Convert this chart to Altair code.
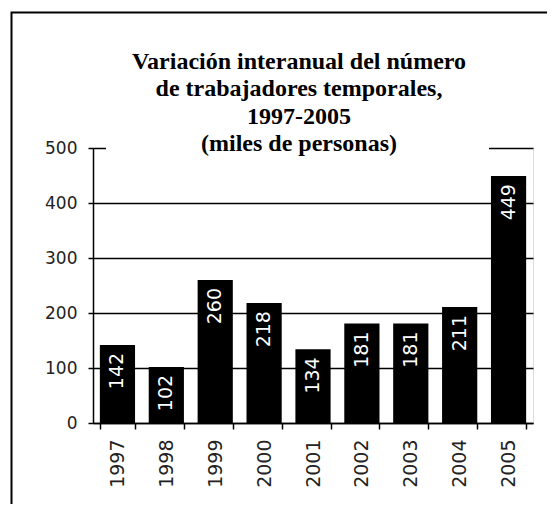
import altair as alt
import pandas as pd

years = ["1997", "1998", "1999", "2000", "2001", "2002", "2003", "2004", "2005"]
values = [142, 102, 260, 218, 134, 181, 181, 211, 449]
y_ticks = [0, 100, 200, 300, 400, 500]
title_lines = [
    "Variación interanual del número",
    "de trabajadores temporales,",
    "1997-2005",
    "(miles de personas)",
]

df = pd.DataFrame({"year": years, "value": values})

x_enc = alt.X(
    "year:N",
    sort=years,
    scale=alt.Scale(paddingInner=0.28, paddingOuter=0.14),
    axis=alt.Axis(
        title=None,
        labelAngle=-90,
        labelAlign="right",
        labelBaseline="middle",
        labelFont="DejaVu Sans",
        labelFontSize=19,
        labelColor="#222222",
        labelPadding=10,
        tickBand="extent",
        tickSize=6,
        tickWidth=1.5,
        tickColor="black",
        domainColor="black",
        domainWidth=1.5,
        grid=False,
    ),
)
y_enc = alt.Y(
    "value:Q",
    scale=alt.Scale(domain=[0, 500], nice=False),
    axis=alt.Axis(
        title=None,
        values=y_ticks,
        grid=True,
        gridColor="black",
        gridWidth=1.5,
        domainColor="black",
        domainWidth=1.5,
        tickColor="black",
        tickSize=5,
        tickWidth=1.5,
        labelFont="DejaVu Sans",
        labelFontSize=17,
        labelColor="#222222",
        labelPadding=11,
    ),
)

base = alt.Chart(df)

bars = base.mark_bar(color="black").encode(x=x_enc, y=y_enc)

labels = base.mark_text(
    angle=270,
    align="right",
    baseline="middle",
    dx=-8,
    color="white",
    font="DejaVu Sans",
    fontSize=19,
).encode(x=alt.X("year:N", sort=years), y="value:Q", text="value:Q")

one = alt.Data(values=[{"a": 1}])
title_data = alt.Data(values=[{"t": "\n".join(title_lines)}])

frame = alt.Chart(one).mark_rect(
    fill="transparent", stroke="black", strokeWidth=2
).encode(
    x=alt.value(-81.5), x2=alt.value(500), y=alt.value(-135.5), y2=alt.value(400)
)

mask = alt.Chart(one).mark_rect(color="white").encode(
    x=alt.value(13), x2=alt.value(396), y=alt.value(-4), y2=alt.value(4)
)

title = alt.Chart(title_data).mark_text(
    font="Liberation Serif",
    fontSize=24,
    fontWeight="bold",
    color="black",
    align="center",
    baseline="alphabetic",
    lineBreak="\n",
    lineHeight=27.3,
).encode(x=alt.value(206), y=alt.value(-79), text="t:N")

chart = (
    alt.layer(frame, bars, mask, labels, title)
    .properties(
        width=440,
        height=275,
        autosize=alt.AutoSizeParams(type="none"),
        padding={"left": 85, "top": 140, "right": 14, "bottom": 81},
    )
    .configure_view(stroke="transparent")
    .configure(background="white")
)

chart.save("out.html", embed_options={"renderer": "svg", "actions": False})
